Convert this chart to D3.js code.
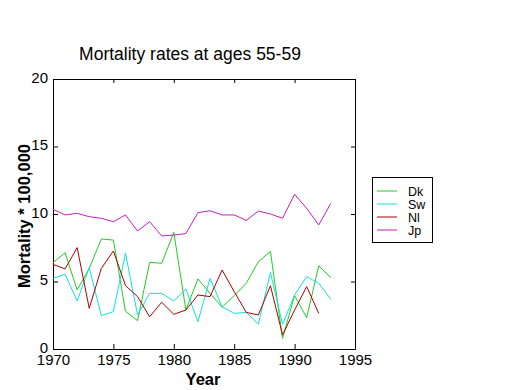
<!DOCTYPE html>
<html>
  <head>
    <meta charset="utf-8">
    <title>Mortality rates</title>
    <style>
      body { margin: 0; background-color: white; }
      svg { display: block; }
      .tick text { font-family: "Liberation Sans Narrow", "Liberation Sans", Arial, sans-serif; font-size: 15px; fill: black; }
    </style>
  </head>
  <body>
    <div id="chart"></div>

    <script src="https://d3js.org/d3.v7.min.js"></script>
    <script>
    var years = d3.range(1970, 1994);
    var dk = [6.39, 7.13, 4.37, 5.97, 8.15, 8.07, 2.8, 2.1, 6.42, 6.35, 8.64, 2.89, 5.19,
              4.12, 3.1, 3.95, 4.87, 6.47, 7.23, 0.79, 3.95, 2.32, 6.17, 5.28];
    var sw = [5.23, 5.53, 3.56, 6.02, 2.47, 2.77, 7.09, 2.52, 4.12, 4.12, 3.56, 4.44, 2.02,
              5.23, 3.13, 2.64, 2.71, 1.85, 5.67, 1.83, 4.0, 5.36, 4.87, 3.68];
    var nl = [6.27, 5.93, 7.51, 3.01, 5.97, 7.26, 4.7, 3.88, 2.39, 3.46, 2.57, 2.89, 4.0,
              3.88, 5.85, 4.25, 2.71, 2.52, 4.69, 1.04, 2.89, 4.62, 2.64];
    var jp = [10.35, 9.93, 10.05, 9.8, 9.68, 9.43, 9.93, 8.74, 9.43, 8.37, 8.44, 8.55, 10.1,
              10.24, 9.93, 9.93, 9.53, 10.22, 10.0, 9.68, 11.46, 10.42, 9.19, 10.79];
    var seriesNames = ["Dk", "Sw", "Nl", "Jp"];
    var seriesColors = ["#22cc22", "#10e0e0", "#b00000", "#c020c0"];
    var seriesData = [dk, sw, nl, jp];
    var xTicks = [1970, 1975, 1980, 1985, 1990, 1995];
    var yTicks = [0, 5, 10, 15, 20];

    var width = 520;
    var height = 390;
    var margin = {top: 79, right: 165, bottom: 41, left: 53};
    var w = width - margin.left - margin.right;
    var h = height - margin.top - margin.bottom;

    var svg = d3.select("#chart").append("svg")
      .attr("width", width)
      .attr("height", height);

    var g = svg.append("g")
      .attr("transform", "translate(" + margin.left + "," + margin.top + ")");

    var x = d3.scaleLinear().domain([1970, 1995]).range([0, w]);
    var y = d3.scaleLinear().domain([0, 20]).range([h, 0]);

    // box with inward ticks on all four sides
    g.append("g").attr("transform", "translate(0," + h + ")")
      .call(d3.axisBottom(x).tickValues(xTicks).tickFormat(d3.format("d")).tickSizeInner(-5).tickSizeOuter(0).tickPadding(5));
    g.append("g")
      .call(d3.axisTop(x).tickValues(xTicks).tickFormat("").tickSizeInner(-4).tickSizeOuter(0));
    g.append("g")
      .call(d3.axisLeft(y).tickValues(yTicks).tickSizeInner(-5).tickSizeOuter(0).tickPadding(5))
      .selectAll(".tick text").attr("dy", "0.22em");
    g.append("g").attr("transform", "translate(" + w + ",0)")
      .call(d3.axisRight(y).tickValues(yTicks).tickFormat("").tickSizeInner(-4).tickSizeOuter(0));
    g.selectAll(".domain").attr("stroke", "black");
    g.selectAll(".tick line").attr("stroke", "black");

    var line = d3.line()
      .x(function(d, i) { return x(years[i]); })
      .y(function(d) { return y(d); });

    seriesData.forEach(function(s, k) {
      g.append("path")
        .datum(s)
        .attr("fill", "none")
        .attr("stroke", seriesColors[k])
        .attr("stroke-width", 1)
        .attr("d", line);
    });

    // title and axis labels
    svg.append("text")
      .attr("x", 190).attr("y", 60)
      .attr("text-anchor", "middle")
      .style("font-family", "Liberation Sans, Arial, sans-serif")
      .style("font-size", "17.5px")
      .text("Mortality rates at ages 55-59");

    svg.append("text")
      .attr("x", 203).attr("y", 385)
      .attr("text-anchor", "middle")
      .style("font-family", "Liberation Sans, Arial, sans-serif")
      .style("font-size", "16.5px")
      .style("font-weight", "bold")
      .text("Year");

    svg.append("text")
      .attr("transform", "translate(30,216) rotate(-90)")
      .attr("text-anchor", "middle")
      .style("font-family", "Liberation Sans, Arial, sans-serif")
      .style("font-size", "16.5px")
      .style("font-weight", "bold")
      .text("Mortality * 100,000");

    // legend
    var legend = svg.append("g").attr("transform", "translate(372,177)");
    legend.append("rect")
      .attr("x", 0.5).attr("y", 0.5)
      .attr("width", 60).attr("height", 65)
      .attr("fill", "white")
      .attr("stroke", "black");
    seriesNames.forEach(function(name, k) {
      var ly = 14 + k * 13;
      legend.append("line")
        .attr("x1", 5).attr("x2", 25)
        .attr("y1", ly).attr("y2", ly)
        .attr("stroke", seriesColors[k]);
      legend.append("text")
        .attr("x", 36).attr("y", ly + 4.5)
        .style("font-family", "Liberation Sans, Arial, sans-serif")
        .style("font-size", "12.5px")
        .text(name);
    });
    </script>
  </body>
</html>
